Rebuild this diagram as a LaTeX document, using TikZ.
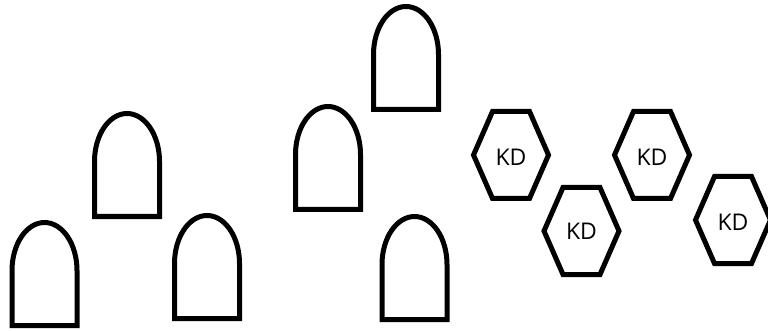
\documentclass[tikz,border=0pt]{standalone}
\usepackage{fontspec}
\setmainfont{Open Sans}
\begin{document}
\begin{tikzpicture}[x=1pt,y=1pt,
  shapeline/.style={draw=black,line width=5pt,line join=miter},
  kdlabel/.style={inner sep=0pt,font=\fontsize{23}{25}\selectfont},
  pics/archshape/.style={code={
    \draw[shapeline] (-32.5,0) -- (-32.5,55) arc[start angle=180,end angle=0,x radius=32.5,y radius=48] -- (32.5,0) -- cycle;
  }},
  pics/hexshape/.style={code={
    \draw[shapeline] (-37.5,0) -- (-18.5,43.5) -- (18.5,43.5) -- (37.5,0) -- (18.5,-43.5) -- (-18.5,-43.5) -- cycle;
  }}
]
\useasboundingbox (0,0) rectangle (768,-331);
\begin{scope}
\clip (0,0) rectangle (768,-331);
% arches (center-bottom)
\pic at (44.5,-325.5) {archshape};
\pic at (127,-216.5) {archshape};
\pic at (207,-318.5) {archshape};
\pic at (328,-209.5) {archshape};
\pic at (406,-109.5) {archshape};
\pic at (414.5,-319.5) {archshape};
% hexagons
\pic at (511,-155) {hexshape};
\pic at (581.5,-231) {hexshape};
\pic at (652,-155) {hexshape};
\pic at (733,-220) {hexshape};
\end{scope}
\node[kdlabel] (kd1) at (511,-157) {KD};
\node[kdlabel] (kd2) at (581.5,-231) {KD};
\node[kdlabel] (kd3) at (652,-157) {KD};
\node[kdlabel] (kd4) at (733,-222) {KD};
\end{tikzpicture}
\end{document}
